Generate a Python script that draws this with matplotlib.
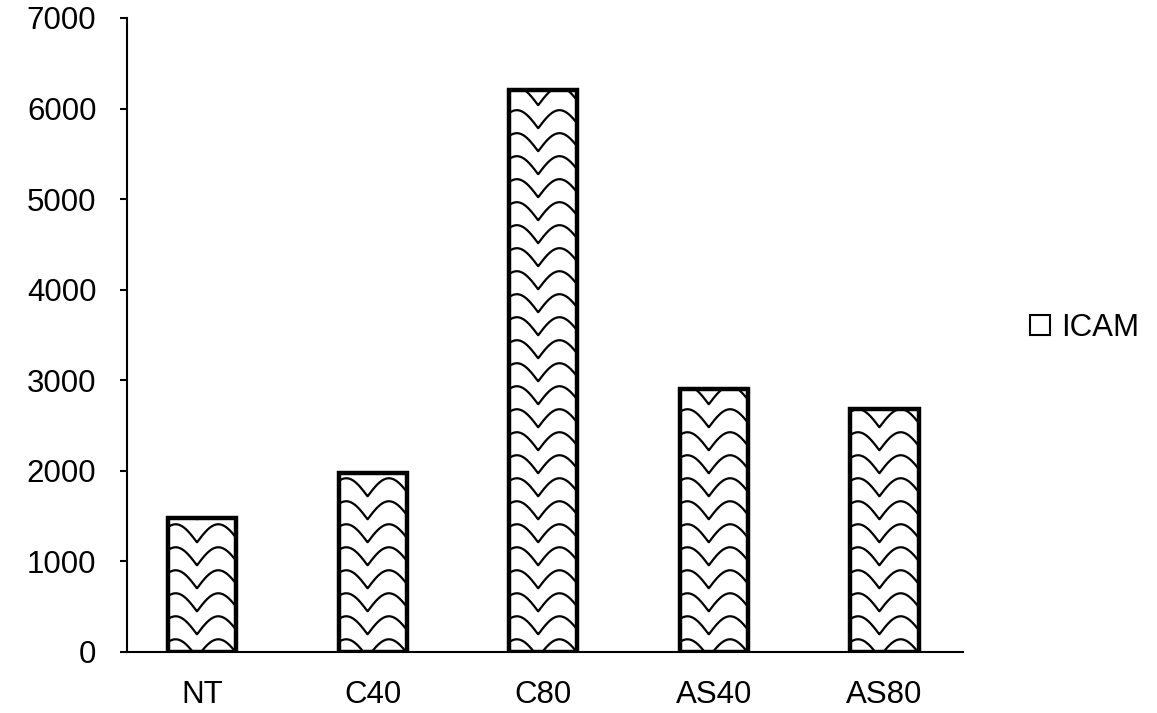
import numpy as np
import matplotlib.pyplot as plt
from matplotlib.patches import Patch

plt.rcParams['font.family'] = ['Liberation Sans', 'DejaVu Sans']

groups = ['NT', 'C40', 'C80', 'AS40', 'AS80']
icam = [1480, 1980, 6200, 2900, 2680]
yticks = [0, 1000, 2000, 3000, 4000, 5000, 6000, 7000]

fig = plt.figure(figsize=(11.57, 7.13), dpi=100)
ax = fig.add_axes([0.1098, 0.0856, 0.7225, 0.8892])

x = np.arange(len(groups))
bars = ax.bar(x, icam, width=0.40, color='white', edgecolor='black', linewidth=3.2, zorder=2)

# wavy fill pattern inside each bar (stand-in for the scanned hatch)
for b in bars:
    x0, w, h = b.get_x(), b.get_width(), b.get_height()
    xs = np.linspace(x0, x0 + w, 200)
    cx = x0 + w / 2 - 0.03
    wave = 200 * np.abs(np.sin(np.pi * (xs - cx) / 0.25))
    for y0 in np.arange(-60, h + 260, 254):
        ln, = ax.plot(xs, y0 + wave, color='black', lw=1.6, zorder=3)
        ln.set_clip_path(b)

ax.set_xlim(-0.44, 4.46)
ax.set_ylim(0, 7000)
ax.set_yticks(yticks)
ax.set_xticks(x)
ax.set_xticklabels(groups)
ax.tick_params(axis='y', length=5, width=1.5, pad=17, labelsize=22.5)
ax.tick_params(axis='x', length=0, pad=20, labelsize=22.5)
for s in ['top', 'right']:
    ax.spines[s].set_visible(False)
for s in ['left', 'bottom']:
    ax.spines[s].set_linewidth(1.5)

h = Patch(facecolor='white', edgecolor='black', linewidth=1.5, label='ICAM')
fig.legend(handles=[h], loc='center left', bbox_to_anchor=(0.866, 0.54), frameon=False,
           fontsize=22.5, handlelength=0.65, handleheight=0.65, handletextpad=0.35)

fig.savefig('out.png', dpi=100)
